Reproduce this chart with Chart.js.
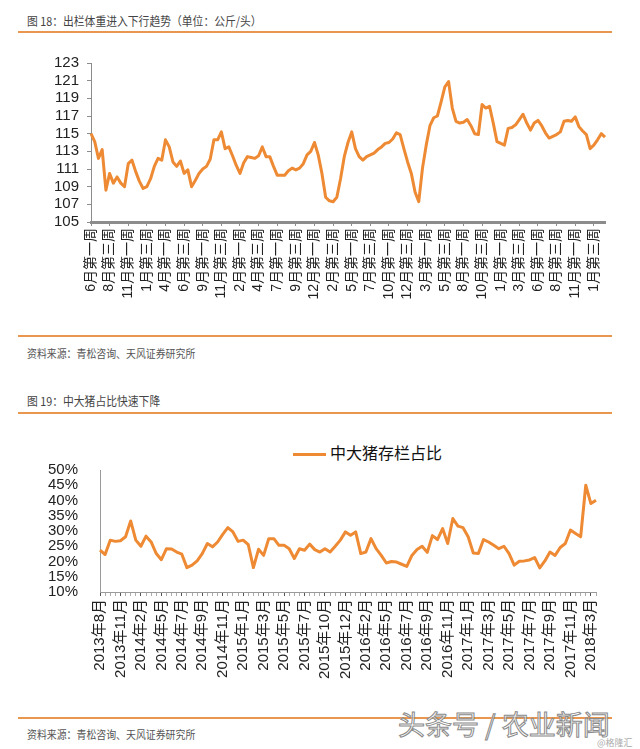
<!DOCTYPE html>
<html>
<head>
<meta charset="utf-8">
<script src="https://cdn.jsdelivr.net/npm/chart.js@4.4.1/dist/chart.umd.min.js"></script>
<style>
  body { margin: 0; background: #fff; width: 640px; height: 749px; position: relative; overflow: hidden; font-family: "Noto Sans CJK SC", sans-serif; }
  .title { position: absolute; left: 27px; font-size: 12px; color: #444; transform: scaleX(0.9); transform-origin: left center; white-space: nowrap; }
  .source { position: absolute; left: 27px; font-size: 11px; color: #555; transform: scaleX(0.9); transform-origin: left center; white-space: nowrap; }
  .rule { position: absolute; left: 18px; width: 594px; height: 2px; background: #e9964f; }
  canvas { position: absolute; left: 0; }
  #legend2 { position: absolute; left: 293px; top: 440px; font-size: 16px; color: #111; white-space: nowrap; }
  #legend2 span { display: inline-block; width: 33px; height: 3px; background: #ee8a33; vertical-align: middle; margin-right: 4px; }
  #mark { position: absolute; left: 398px; top: 704px; font-size: 27px; color: rgba(255,255,255,0.7); -webkit-text-stroke: 1px #8a8a8a; white-space: nowrap; }
  #mark2 { position: absolute; left: 597px; top: 736px; font-size: 9px; color: #aaa; white-space: nowrap; }
</style>
</head>
<body>
<div class="title" style="top:12px">图 18：出栏体重进入下行趋势（单位：公斤/头）</div>
<div class="rule" style="top:31px"></div>
<canvas id="chart1" width="640" height="290" style="top:40px;width:640px;height:290px"></canvas>
<div class="rule" style="top:335px"></div>
<div class="source" style="top:345px">资料来源：青松咨询、天风证券研究所</div>

<div class="title" style="top:392px">图 19：中大猪占比快速下降</div>
<div class="rule" style="top:412px"></div>
<div id="legend2"><span></span>中大猪存栏占比</div>
<canvas id="chart2" width="640" height="280" style="top:420px;width:640px;height:280px"></canvas>
<div class="rule" style="top:717px"></div>
<div class="source" style="top:726px">资料来源：青松咨询、天风证券研究所</div>
<div id="mark">头条号 / 农业新闻</div>
<div id="mark2">@格隆汇</div>

<script>
// Figure 18: slaughter weight, one point every two weeks, label every 5 points
var weekTicks = ["6月第一周", "8月第三周", "11月第一周", "1月第三周", "4月第一周", "6月第三周", "9月第一周",
  "11月第三周", "2月第一周", "4月第三周", "7月第一周", "9月第三周", "12月第一周", "2月第三周", "5月第一周",
  "7月第三周", "10月第一周", "12月第三周", "3月第一周", "5月第三周", "8月第一周", "10月第三周", "1月第一周",
  "3月第三周", "6月第一周", "8月第三周", "11月第一周", "1月第三周"];

var weights = [
  115.0, 114.1, 112.2, 113.2, 108.6, 110.5, 109.4, 110.1, 109.4, 109.0,
  111.6, 112.0, 110.7, 109.6, 108.8, 109.0, 109.9, 111.3, 112.2, 112.0,
  114.3, 113.5, 111.8, 111.3, 111.9, 110.5, 110.9, 109.0, 109.7, 110.5,
  111.0, 111.3, 112.1, 114.3, 114.3, 115.2, 113.3, 113.5, 112.5, 111.4,
  110.5, 111.7, 112.4, 112.3, 112.2, 112.5, 113.5, 112.4, 112.4, 111.3,
  110.3, 110.3, 110.3, 110.8, 111.1, 110.9, 111.1, 111.6, 112.6, 113.0,
  114.0, 112.6, 110.5, 107.8, 107.4, 107.3, 107.8, 109.9, 112.4, 114.0,
  115.2, 113.3, 112.4, 112.0, 112.4, 112.6, 112.8, 113.2, 113.5, 113.9,
  114.0, 114.4, 115.1, 114.9, 113.3, 111.8, 110.5, 108.4, 107.3, 111.1,
  113.7, 115.9, 116.8, 117.0, 118.6, 120.3, 120.9, 117.9, 116.4, 116.2,
  116.3, 116.6, 115.9, 115.0, 114.9, 118.3, 117.9, 118.1, 116.2, 114.1,
  113.9, 113.7, 115.6, 115.7, 116.0, 116.6, 117.2, 116.2, 115.4, 116.2,
  116.5, 115.9, 115.1, 114.5, 114.7, 114.9, 115.2, 116.4, 116.5, 116.4,
  116.9, 115.8, 115.3, 114.9, 113.3, 113.7, 114.3, 115.0, 114.6
];

// Figure 19: share of mid/large pigs (%), label every 4 points
var monthTicks = ["2013年8月", "2013年11月", "2014年2月", "2014年5月", "2014年7月", "2014年9月", "2014年11月",
  "2015年1月", "2015年3月", "2015年5月", "2015年7月", "2015年10月", "2015年12月", "2016年2月", "2016年5月",
  "2016年7月", "2016年9月", "2016年11月", "2017年1月", "2017年3月", "2017年5月", "2017年7月", "2017年9月",
  "2017年11月", "2018年3月"];

var share = [
  23.7, 22.3, 27.0, 26.6, 26.8, 28.1, 33.3, 27.0, 25.0, 28.3,
  26.4, 22.6, 20.6, 24.2, 24.1, 23.1, 22.4, 18.0, 18.8, 20.2,
  22.6, 25.9, 24.8, 26.4, 28.9, 31.1, 29.7, 26.6, 27.0, 25.5,
  18.0, 24.0, 22.0, 27.5, 27.5, 25.3, 25.3, 24.2, 21.0, 24.2,
  23.7, 25.7, 23.9, 23.1, 24.2, 23.1, 25.0, 27.0, 29.7, 28.6,
  29.7, 22.6, 23.1, 27.5, 24.2, 22.0, 19.5, 20.0, 19.8, 19.1,
  18.4, 22.0, 23.9, 25.0, 23.0, 28.5, 27.2, 30.8, 25.9, 34.1,
  31.6, 31.1, 28.1, 22.8, 22.6, 27.2, 26.4, 25.3, 24.2, 25.0,
  22.6, 18.8, 20.1, 20.2, 20.5, 21.3, 17.9, 20.2, 23.1, 22.0,
  24.6, 25.9, 30.3, 29.2, 28.1, 45.0, 39.0, 40.1
];

var lineColor = "#ee8a33";
var tickFont = "'Liberation Sans', 'Noto Sans CJK SC', sans-serif";

function spreadLabels(ticks, count, every) {
  var out = [];
  for (var i = 0; i < count; i++) {
    out.push(i % every === 0 && ticks[i / every] ? ticks[i / every] : "");
  }
  return out;
}

var labels1 = spreadLabels(weekTicks, weights.length, 5);
var labels2 = spreadLabels(monthTicks, share.length, 4);

new Chart(document.getElementById("chart1"), {
  type: "line",
  data: {
    labels: labels1,
    datasets: [{
      data: weights,
      borderColor: lineColor,
      borderWidth: 3,
      pointRadius: 0,
      tension: 0,
      borderJoinStyle: "round"
    }]
  },
  options: {
    responsive: false,
    animation: false,
    layout: { padding: { top: 23, right: 35, left: 0, bottom: 0 } },
    plugins: { legend: { display: false }, tooltip: { enabled: false } },
    scales: {
      x: {
        offset: false,
        afterFit: function (scale) { scale.height = 108; },
        border: { color: "#8c8c8c", width: 3 },
        grid: {
          drawOnChartArea: false,
          tickLength: 4,
          color: function (c) { return c.index % 5 === 0 ? "#8c8c8c" : "rgba(0,0,0,0)"; }
        },
        ticks: {
          autoSkip: false,
          minRotation: 90,
          maxRotation: 90,
          padding: 2,
          color: "#222",
          font: { family: tickFont, size: 14 }
        }
      },
      y: {
        min: 105,
        max: 123,
        afterFit: function (scale) { scale.width = 91; },
        border: { color: "#8c8c8c", width: 1 },
        grid: { drawOnChartArea: false, tickLength: 4, color: "#8c8c8c" },
        ticks: {
          stepSize: 2,
          autoSkip: false,
          padding: 8,
          color: "#222",
          font: { family: tickFont, size: 15 }
        }
      }
    }
  }
});

new Chart(document.getElementById("chart2"), {
  type: "line",
  data: {
    labels: labels2,
    datasets: [{
      label: "中大猪存栏占比",
      data: share,
      borderColor: lineColor,
      borderWidth: 3,
      pointRadius: 0,
      tension: 0,
      borderJoinStyle: "round"
    }]
  },
  options: {
    responsive: false,
    animation: false,
    layout: { padding: { top: 50, right: 44, left: 0, bottom: 0 } },
    plugins: { legend: { display: false }, tooltip: { enabled: false } },
    scales: {
      x: {
        offset: false,
        afterFit: function (scale) { scale.height = 108; },
        border: { color: "#9a9a9a", width: 1 },
        grid: {
          drawOnChartArea: false,
          tickLength: 4,
          color: function (c) { return c.index % 4 === 0 ? "#555" : "#aaa"; }
        },
        ticks: {
          autoSkip: false,
          minRotation: 90,
          maxRotation: 90,
          padding: 3,
          color: "#222",
          font: { family: tickFont, size: 15 }
        }
      },
      y: {
        min: 10,
        max: 50,
        afterFit: function (scale) { scale.width = 100; },
        border: { color: "#9a9a9a", width: 1 },
        grid: { display: false },
        ticks: {
          stepSize: 5,
          autoSkip: false,
          padding: 14,
          color: "#222",
          font: { family: tickFont, size: 15 },
          callback: function (v) { return v + "%"; }
        }
      }
    }
  }
});
</script>
</body>
</html>
